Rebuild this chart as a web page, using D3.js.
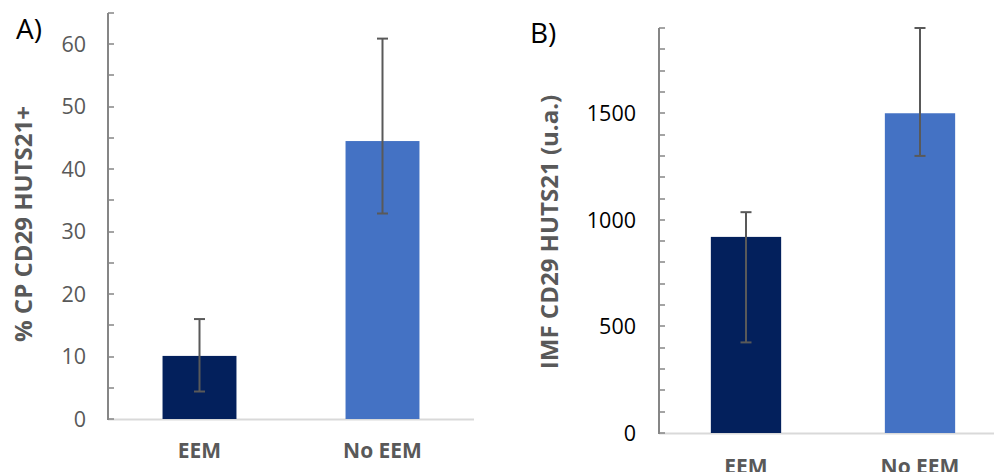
<!DOCTYPE html>
<html>
<head>
<meta charset="utf-8">
<script src="https://cdn.jsdelivr.net/npm/d3@7"></script>
<style>
  html, body { margin: 0; padding: 0; background: #fff; }
  svg { display: block; }
  text { font-family: "Open Sans", "Noto Sans", sans-serif; }
</style>
</head>
<body>
<svg id="chart" width="994" height="472"></svg>
<script>
// Groups shared by both panels
const categories = ["EEM", "No EEM"];
const barColors = ["#03205c", "#4472c4"];

// Panel A: % CP CD29 HUTS21+
const pctMean = [10.1, 44.5];
const pctUpper = [16.0, 60.9];
const pctLower = [4.4, 32.9];
const pctMajorTicks = [0, 10, 20, 30, 40, 50, 60];
const pctMinorTicks = [0, 5, 10, 15, 20, 25, 30, 35, 40, 45, 50, 55, 60, 65];

// Panel B: IMF CD29 HUTS21 (u.a.)
const imfMean = [920, 1500];
const imfUpper = [1036, 1900];
const imfLower = [425, 1300];
const imfMajorTicks = [0, 500, 1000, 1500];
const imfMinorTicks = d3.range(0, 1901, 100);

const svg = d3.select("#chart");

function panel(cfg) {
  const g = svg.append("g");
  const y = d3.scaleLinear().domain(cfg.domain).range([cfg.y0, cfg.y1]);
  const x = d3.scaleBand().domain(categories).range([cfg.x0, cfg.x1]).padding(0);
  const bw = x.bandwidth() * 0.404;

  // category axis baseline
  g.append("line")
    .attr("x1", cfg.x0).attr("x2", cfg.xLineEnd)
    .attr("y1", y(0) + 0.5).attr("y2", y(0) + 0.5)
    .attr("stroke", "#d9d9d9").attr("stroke-width", 2);

  // bars
  g.selectAll("rect.bar").data(categories).join("rect")
    .attr("class", "bar")
    .attr("x", (d) => x(d) + x.bandwidth() / 2 - bw / 2)
    .attr("width", bw)
    .attr("y", (d, i) => y(cfg.mean[i]))
    .attr("height", (d, i) => y(0) - y(cfg.mean[i]))
    .attr("fill", (d, i) => barColors[i]);

  // value axis with minor tick marks pointing inward
  const axis = g.append("g").attr("transform", `translate(${cfg.x0},0)`);
  axis.append("line")
    .attr("x1", 0).attr("x2", 0)
    .attr("y1", y(cfg.domain[1])).attr("y2", y(0) + 1)
    .attr("stroke", "#868686").attr("stroke-width", 2);
  axis.selectAll("line.tick").data(cfg.minor).join("line")
    .attr("class", "tick")
    .attr("x1", 0).attr("x2", 6)
    .attr("y1", (d) => Math.round(y(d))).attr("y2", (d) => Math.round(y(d)))
    .attr("stroke", "#868686").attr("stroke-width", 1.5);
  axis.selectAll("text.tl").data(cfg.major).join("text")
    .attr("class", "tl")
    .attr("x", cfg.labelRight - cfg.x0)
    .attr("y", (d) => y(d))
    .attr("dy", "0.36em")
    .attr("text-anchor", "end")
    .attr("font-size", 21.5)
    .attr("fill", cfg.tickColor)
    .text((d) => d);

  // error bars
  const eb = g.selectAll("g.err").data(categories).join("g").attr("class", "err");
  const cx = (d) => x(d) + x.bandwidth() / 2;
  eb.append("line")
    .attr("x1", cx).attr("x2", cx)
    .attr("y1", (d, i) => y(cfg.upper[i])).attr("y2", (d, i) => y(cfg.lower[i]))
    .attr("stroke", "#595959").attr("stroke-width", 2);
  [cfg.upper, cfg.lower].forEach((arr) => {
    eb.append("line")
      .attr("x1", (d) => cx(d) - 5.5).attr("x2", (d) => cx(d) + 5.5)
      .attr("y1", (d, i) => y(arr[i])).attr("y2", (d, i) => y(arr[i]))
      .attr("stroke", "#595959").attr("stroke-width", 2);
  });

  // category labels
  g.selectAll("text.cat").data(categories).join("text")
    .attr("class", "cat")
    .attr("x", cx)
    .attr("y", cfg.catY)
    .attr("text-anchor", "middle")
    .attr("font-size", 21)
    .attr("font-weight", "bold")
    .attr("fill", "#595959")
    .text((d) => d);

  // value axis title
  g.append("text")
    .attr("transform", `translate(${cfg.titleX},${cfg.titleY}) rotate(-90)`)
    .attr("text-anchor", "middle")
    .attr("font-size", 24)
    .attr("font-weight", "bold")
    .attr("fill", "#595959")
    .text(cfg.title);

  // panel letter
  g.append("text")
    .attr("x", cfg.letterX).attr("y", cfg.letterY)
    .attr("font-size", 28)
    .attr("fill", "#000")
    .text(cfg.letter);
}

panel({
  domain: [0, 65], y0: 419, y1: 13,
  x0: 108, x1: 474, xLineEnd: 474,
  mean: pctMean, upper: pctUpper, lower: pctLower,
  major: pctMajorTicks, minor: pctMinorTicks,
  labelRight: 86, tickColor: "#595959",
  catY: 458, title: "% CP CD29 HUTS21+", titleX: 32, titleY: 224,
  letter: "A)", letterX: 16, letterY: 39
});

panel({
  domain: [0, 1900], y0: 433, y1: 28,
  x0: 659, x1: 1007, xLineEnd: 994,
  mean: imfMean, upper: imfUpper, lower: imfLower,
  major: imfMajorTicks, minor: imfMinorTicks,
  labelRight: 636, tickColor: "#000",
  catY: 474, title: "IMF CD29 HUTS21 (u.a.)", titleX: 558, titleY: 232,
  letter: "B)", letterX: 530, letterY: 43
});
</script>
</body>
</html>
